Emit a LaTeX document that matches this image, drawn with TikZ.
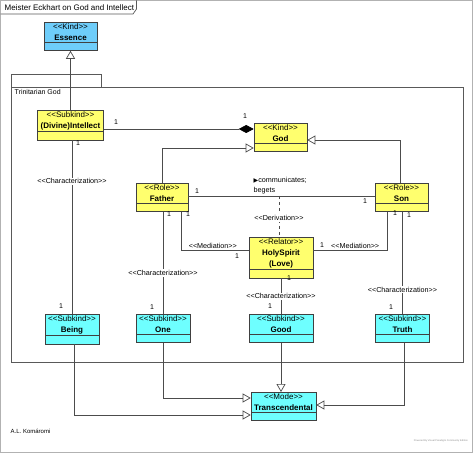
\documentclass[tikz,border=0pt]{standalone}
\usepackage{fontspec}
\setmainfont{Liberation Sans}
\newfontfamily\symfont{DejaVu Sans}
\usetikzlibrary{arrows.meta, shapes.multipart, calc}
\definecolor{kindblue}{RGB}{110,205,250}
\definecolor{roleyellow}{RGB}{255,255,110}
\definecolor{modecyan}{RGB}{110,255,255}
\tikzset{
  umlclass/.style={
    rectangle split, rectangle split parts=2, draw=black!75, line width=0.6pt,
    rectangle split empty part height=2.6pt, rectangle split empty part depth=0pt,
    align=center, inner xsep=2pt, inner ysep=1.2pt, anchor=north,
    font=\fontsize{8}{11}\selectfont
  },
  kindbox/.style={umlclass, fill=kindblue},
  rolebox/.style={umlclass, fill=roleyellow},
  modebox/.style={umlclass, fill=modecyan},
  umlline/.style={draw=black!70, line width=0.7pt},
  gen/.style={umlline, -{Triangle[open, length=8pt, width=9pt, fill=white]}},
  compose/.style={umlline, -{Diamond[length=15pt, width=8pt, fill=black, color=black]}},
  deriv/.style={umlline, dashed},
  mult/.style={font=\fontsize{7}{8}\selectfont, inner sep=0.5pt},
  stereolabel/.style={font=\fontsize{7.2}{8}\selectfont, fill=white, inner sep=1pt},
  frameline/.style={draw=black!65, line width=0.7pt}
}
\newcommand{\stereo}[2]{<{}<#1>{}>\\\textbf{#2}}

\begin{document}
\begin{tikzpicture}[x=1pt, y=-1pt]
    \useasboundingbox (0,0) rectangle (474,454);
    % diagram frame
    \draw[draw=black!30, line width=0.6pt] (0.5,0.5) rectangle (472,452.5);
    \draw[frameline] (0.5,14) -- (133,14) -- (136.5,9) -- (136.5,0.5);
    \node[anchor=west, font=\fontsize{8}{9}\selectfont, inner sep=0pt] (diagTitle) at (4.5,7.5) {Meister Eckhart on God and Intellect};
    % package
    \draw[frameline] (11.5,87) rectangle (463.5,362.5);
    \draw[frameline] (11.5,87) |- (101.5,74) -- (101.5,87);
    \node[anchor=west, font=\fontsize{7}{8}\selectfont, inner sep=0pt] (pkgName) at (14.5,92) {Trinitarian God};

    % classes
    \node[kindbox, minimum width=53pt] (kEssence) at (70.5,22) {\stereo{Kind}{Essence}};
    \node[rolebox, minimum width=66pt] (sIntellect) at (70.5,110) {\stereo{Subkind}{(Divine)Intellect}};
    \node[rolebox, minimum width=53pt, minimum height=33pt] (kGod) at (280.5,123) {\stereo{Kind}{God}};
    \node[rolebox, minimum width=52pt] (rFather) at (162,183) {\stereo{Role}{Father}};
    \node[rolebox, minimum width=53pt] (rSon) at (401.5,183) {\stereo{Role}{Son}};
    \node[rolebox, minimum width=64pt] (rlSpirit) at (281,237) {<{}<Relator>{}>\\\textbf{HolySpirit}\\\textbf{(Love)}};
    \node[modebox, minimum width=54pt] (sBeing) at (72,314) {\stereo{Subkind}{Being}};
    \node[modebox, minimum width=54pt] (sOne) at (163,314) {\stereo{Subkind}{One}};
    \node[modebox, minimum width=64pt] (sGood) at (281,314) {\stereo{Subkind}{Good}};
    \node[modebox, minimum width=54pt] (sTruth) at (402.5,314) {\stereo{Subkind}{Truth}};
    \node[modebox, minimum width=65pt] (mTrans) at (283.5,392) {\stereo{Mode}{Transcendental}};

    % generalizations and composition
    \draw[gen] (sIntellect.north) -- (kEssence.south);
    \draw[compose] (sIntellect.east |- 0,129) -- (kGod.west |- 0,129);
    \draw[gen] (rFather.north) |- (kGod.west |- 0,148);
    \draw[gen] ([xshift=-1pt]rSon.north) |- (kGod.east |- 0,140);

    % association and derivation
    \draw[umlline] (rFather.east |- 0,196) -- (rSon.west |- 0,196);
    \coordinate (begetPt) at (279,196);
    \node[anchor=north west, align=left, font=\fontsize{7.2}{10}\selectfont, inner sep=0pt] (begetName) at (253.5,177.5) {{\symfont\fontsize{6}{8}\selectfont ▶}communicates;\\begets};
    \draw[deriv] (begetPt) -- node[stereolabel, pos=0.54] (derivName) {<{}<Derivation>{}>} (begetPt |- rlSpirit.north);

    % mediations
    \draw[umlline] ([xshift=19pt]rFather.south) |- node[stereolabel, pos=0.735, above, fill=none] (medFather) {<{}<Mediation>{}>} (rlSpirit.west |- 0,250);
    \draw[umlline] ([xshift=-14.5pt]rSon.south) |- node[stereolabel, pos=0.716, above, fill=none] (medSon) {<{}<Mediation>{}>} (rlSpirit.east |- 0,250);

    % characterizations
    \draw[umlline] (sIntellect.south -| sBeing.north) -- node[stereolabel, pos=0.236] (charBeing) {<{}<Characterization>{}>} (sBeing.north);
    \draw[umlline] (rFather.south -| sOne.north) -- node[stereolabel, pos=0.6] (charOne) {<{}<Characterization>{}>} (sOne.north);
    \draw[umlline] (rlSpirit.south -| sGood.north) -- node[stereolabel, pos=0.5] (charGood) {<{}<Characterization>{}>} (sGood.north);
    \draw[umlline] (rSon.south -| sTruth.north) -- node[stereolabel, pos=0.76] (charTruth) {<{}<Characterization>{}>} (sTruth.north);

    % transcendental
    \draw[gen] (sGood.south) -- (sGood.south |- mTrans.north);
    \draw[gen] (sOne.south) |- (mTrans.west |- 0,398);
    \draw[gen] ([xshift=2pt]sBeing.south) |- (mTrans.west |- 0,415);
    \draw[gen] ([xshift=1.5pt]sTruth.south) |- (mTrans.east |- 0,405);

    % multiplicities
    \node[mult] (mIntelComp) at (116,122) {1};
    \node[mult] (mGodComp) at (245,116) {1};
    \node[mult] (mIntelChar) at (78,143) {1};
    \node[mult] (mBeing) at (61,306) {1};
    \node[mult] (mFatherAssoc) at (197,191) {1};
    \node[mult] (mSonAssoc) at (365,201) {1};
    \node[mult] (mFatherChar) at (169,214) {1};
    \node[mult] (mFatherMed) at (188,214) {1};
    \node[mult] (mOne) at (152,307) {1};
    \node[mult] (mSpiritL) at (237,256) {1};
    \node[mult] (mSpiritR) at (322,245) {1};
    \node[mult] (mSonMed) at (395,213) {1};
    \node[mult] (mSonChar) at (409,215) {1};
    \node[mult] (mTruth) at (391,307) {1};
    \node[mult] (mSpiritChar) at (289,278) {1};
    \node[mult] (mGood) at (270,306) {1};

    \node[anchor=west, font=\fontsize{6}{7}\selectfont, inner sep=0pt] (author) at (10.5,431) {A.L.\ Komáromi};
    \node[anchor=east, font=\fontsize{2.5}{3}\selectfont, text=black!45, inner sep=0pt] (poweredBy) at (468,441) {Powered By Visual Paradigm Community Edition};
\end{tikzpicture}
\end{document}
